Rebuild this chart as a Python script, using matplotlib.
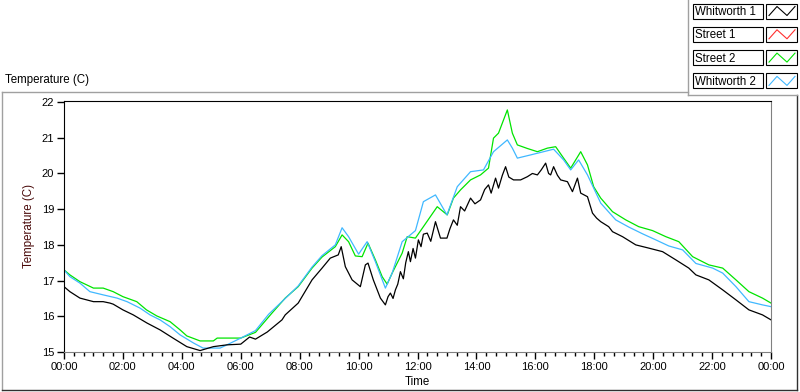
import matplotlib
matplotlib.use("Agg")
import matplotlib.pyplot as plt
from matplotlib.lines import Line2D
from matplotlib.patches import Rectangle
from matplotlib.ticker import MultipleLocator, FuncFormatter

# series names, in legend order
series_names = ["Whitworth 1", "Street 1", "Street 2", "Whitworth 2"]
series_colors = ["#000000", "#ff3030", "#00e400", "#40b8ff"]

# hours since midnight / temperature (C)
whit1_h = [0, 0.2, 0.54, 1.0, 1.33, 1.56, 1.67, 2.0, 2.35, 2.82, 3.26, 3.7, 4.17, 4.62,
           5.07, 5.53, 6.0, 6.3, 6.5, 6.9, 7.4, 7.51, 7.95, 8.42, 8.76, 9.04, 9.31, 9.41,
           9.55, 9.78, 10.06, 10.23, 10.32, 10.5, 10.74, 10.91, 11.0, 11.08, 11.17, 11.25,
           11.33, 11.42, 11.52, 11.6, 11.69, 11.76, 11.85, 11.93, 12.03, 12.12, 12.2, 12.33,
           12.45, 12.61, 12.78, 13.0, 13.1, 13.22, 13.35, 13.46, 13.6, 13.8, 13.95, 14.14,
           14.28, 14.41, 14.5, 14.65, 14.75, 14.88, 14.99, 15.1, 15.26, 15.5, 15.73, 15.9,
           16.07, 16.2, 16.35, 16.45, 16.52, 16.62, 16.75, 16.86, 17.09, 17.26, 17.43, 17.54,
           17.77, 17.94, 18.08, 18.22, 18.49, 18.62, 18.96, 19.41, 19.85, 20.32, 20.77, 21.21,
           21.45, 21.89, 22.36, 22.81, 23.25, 23.71, 24.0]
whit1_t = [16.83, 16.69, 16.51, 16.41, 16.41, 16.37, 16.34, 16.18, 16.04, 15.81, 15.62, 15.39, 15.15, 15.04,
           15.15, 15.2, 15.22, 15.42, 15.36, 15.56, 15.9, 16.04, 16.37, 17.02, 17.35, 17.63, 17.72, 17.95,
           17.39, 17.02, 16.83, 17.44, 17.49, 17.02, 16.51, 16.32, 16.55, 16.65, 16.5, 16.74,
           16.9, 17.25, 17.05, 17.5, 17.81, 17.53, 17.9, 17.63, 18.14, 17.95, 18.3, 18.33,
           18.1, 18.65, 18.19, 18.19, 18.45, 18.7, 18.55, 19.07, 18.95, 19.31, 19.15, 19.26,
           19.55, 19.68, 19.45, 19.87, 19.59, 19.95, 20.19, 19.9, 19.82, 19.82, 19.91, 20.0,
           19.96, 20.1, 20.29, 20.0, 19.96, 20.19, 19.95, 19.82, 19.77, 19.49, 19.87, 19.45,
           19.35, 18.89, 18.75, 18.65, 18.51, 18.37, 18.23, 18.0, 17.91, 17.81, 17.58, 17.35,
           17.16, 17.02, 16.74, 16.46, 16.18, 16.04, 15.9]

street1_h = []
street1_t = []

street2_h = [0, 0.2, 0.54, 1.0, 1.33, 1.67, 2.0, 2.47, 2.8, 3.15, 3.6, 3.94, 4.17, 4.62, 5.07,
             5.2, 6.0, 6.5, 7.06, 7.51, 7.95, 8.42, 8.76, 9.21, 9.44, 9.66, 9.89, 10.12, 10.32,
             10.57, 10.8, 10.97, 11.14, 11.48, 11.65, 11.93, 12.2, 12.67, 13.01, 13.22, 13.46,
             13.8, 14.14, 14.41, 14.58, 14.75, 15.05, 15.22, 15.39, 15.73, 16.07, 16.41, 16.69,
             16.96, 17.2, 17.54, 17.77, 17.98, 18.22, 18.62, 19.07, 19.51, 19.98, 20.43, 20.87,
             21.34, 21.89, 22.36, 22.81, 23.25, 23.71, 24.0]
street2_t = [17.3, 17.16, 16.97, 16.79, 16.79, 16.69, 16.55, 16.41, 16.18, 16.01, 15.85, 15.62, 15.45, 15.31, 15.31,
             15.39, 15.39, 15.55, 16.09, 16.51, 16.83, 17.35, 17.66, 17.95, 18.28, 18.09, 17.69, 17.67, 18.05,
             17.58, 17.11, 16.9, 17.21, 17.77, 18.23, 18.19, 18.51, 19.07, 18.84, 19.31, 19.54,
             19.82, 19.96, 20.15, 20.99, 21.13, 21.78, 21.13, 20.8, 20.7, 20.61, 20.71, 20.75,
             20.43, 20.15, 20.61, 20.24, 19.63, 19.31, 18.93, 18.7, 18.51, 18.4, 18.23, 18.09,
             17.67, 17.44, 17.35, 17.02, 16.69, 16.51, 16.37]

whit2_h = [0, 0.2, 0.54, 0.88, 1.33, 1.8, 2.14, 2.58, 2.92, 3.26, 3.6, 3.94, 4.4, 4.72, 5.3,
           5.53, 6.0, 6.5, 6.95, 7.51, 7.95, 8.42, 8.76, 9.21, 9.44, 9.66, 10.0, 10.29, 10.57,
           10.91, 11.14, 11.48, 11.93, 12.2, 12.61, 13.0, 13.35, 13.8, 14.24, 14.58, 15.05,
           15.22, 15.39, 15.84, 16.28, 16.62, 16.96, 17.2, 17.47, 17.77, 18.22, 18.73, 19.17,
           19.64, 20.09, 20.53, 21.0, 21.45, 22.02, 22.36, 22.81, 23.25, 23.71, 24.0]
whit2_t = [17.3, 17.11, 16.93, 16.69, 16.6, 16.51, 16.41, 16.23, 16.04, 15.9, 15.71, 15.48, 15.25, 15.11, 15.11,
           15.2, 15.39, 15.6, 16.06, 16.5, 16.85, 17.38, 17.7, 18.0, 18.48, 18.23, 17.74, 18.09, 17.53,
           16.79, 17.21, 18.09, 18.4, 19.21, 19.4, 18.84, 19.63, 20.05, 20.1, 20.61, 20.94,
           20.71, 20.43, 20.52, 20.61, 20.68, 20.38, 20.1, 20.38, 19.96, 19.17, 18.7, 18.5,
           18.31, 18.14, 17.97, 17.86, 17.48, 17.35, 17.21, 16.83, 16.41, 16.32, 16.27]

W, H = 800, 392
plt.rcParams['font.family'] = ['Liberation Sans', 'DejaVu Sans']
fs = 8.3      # labels, title, legend
tfs = 8.0     # tick labels

fig = plt.figure(figsize=(W / 100, H / 100), dpi=100)
fig.patch.set_facecolor('white')


def fx(x):
    return x / W


def fy(y):
    return 1 - y / H


ax = fig.add_axes([fx(64), fy(352), fx(771) - fx(64), fy(101) - fy(352)])

data = [(whit1_h, whit1_t), (street1_h, street1_t), (street2_h, street2_t), (whit2_h, whit2_t)]
# draw order: green then blue then black on top
for i in [2, 3, 1, 0]:
    h, t = data[i]
    ax.plot(h, t, color=series_colors[i], lw=0.9)

ax.set_xlim(0, 24)
ax.set_ylim(15, 22.03)
ax.xaxis.set_major_locator(MultipleLocator(2))
ax.xaxis.set_minor_locator(MultipleLocator(1 / 3))
ax.xaxis.set_major_formatter(FuncFormatter(lambda v, p: "%02d:00" % (int(round(v)) % 24)))
ax.yaxis.set_major_locator(MultipleLocator(1))
ax.tick_params(axis='both', which='major', length=5, width=1, labelsize=tfs, pad=2, color='black')
ax.tick_params(axis='x', which='minor', length=3, width=1, color='black')
for side in ['top', 'left']:
    ax.spines[side].set_color('black')
for side in ['bottom', 'right']:
    ax.spines[side].set_color('#808080')
ax.set_xlabel('Time', fontsize=fs, labelpad=3)
ax.set_ylabel('Temperature (C)', fontsize=fs, color='#4a0a0a', labelpad=5)

# chart title
fig.text(fx(5), fy(80), 'Temperature (C)', fontsize=fs, va='center', ha='left')

# outer frame of the panel
frame = [((2, 92), (688, 92), '#a0a0a0'), ((2, 92), (2, 390), '#a0a0a0'),
         ((2, 390), (797, 390), '#303030'), ((797, 95), (797, 390), '#303030'),
         ((688, 0), (688, 95), '#a0a0a0'), ((688, 95), (797, 95), '#a0a0a0')]
for (x0, y0), (x1, y1), c in frame:
    fig.add_artist(Line2D([fx(x0), fx(x1)], [fy(y0), fy(y1)], color=c, lw=1))

# legend
for k, name in enumerate(series_names):
    top = 3.5 + k * 23.3
    fig.add_artist(Rectangle((fx(692.5), fy(top + 15)), fx(70.5), 15 / H,
                             facecolor='white', edgecolor='black', lw=0.8))
    fig.text(fx(695), fy(top + 8.5), name, fontsize=fs, va='center', ha='left')
    fig.add_artist(Rectangle((fx(766), fy(top + 15)), fx(31), 15 / H,
                             facecolor='white', edgecolor='black', lw=0.8))
    zx = [769, 777, 787, 795]
    zy = [top + 12, top + 3, top + 12, top + 3]
    fig.add_artist(Line2D([fx(v) for v in zx], [fy(v) for v in zy],
                          color=series_colors[k], lw=0.8))

fig.savefig('out.png', dpi=100)
